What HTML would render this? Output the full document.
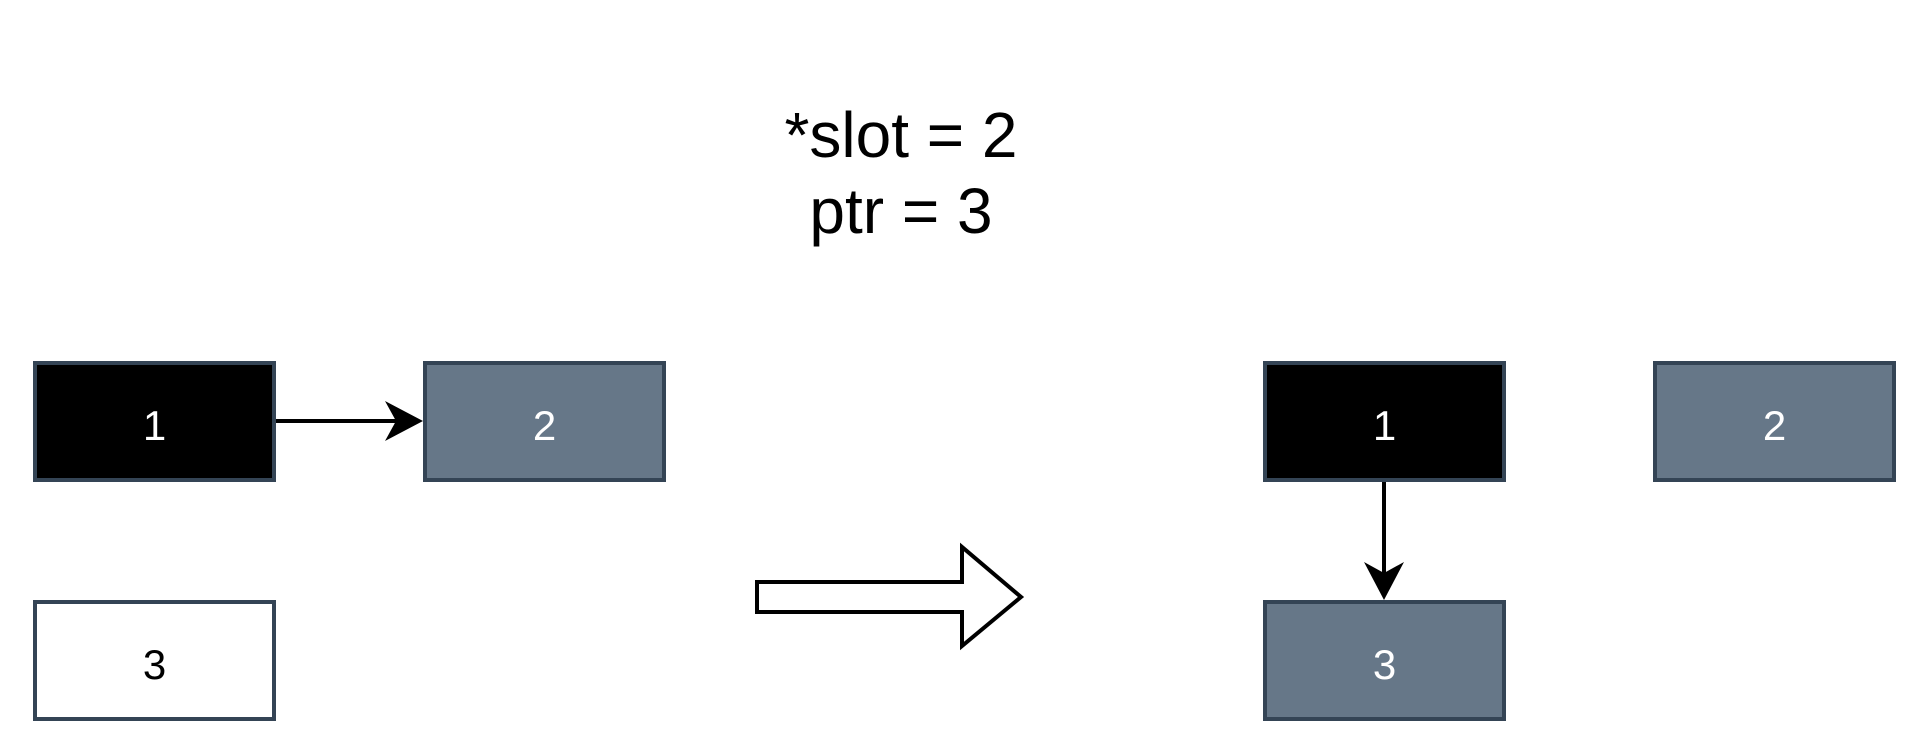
<!DOCTYPE html>
<html><head><style>
html,body{margin:0;padding:0;background:#fff;}
body{width:1926px;height:756px;position:relative;overflow:hidden;font-family:"Liberation Sans",sans-serif;}
.b{position:absolute;box-sizing:border-box;border:4px solid #344455;display:flex;align-items:center;justify-content:center;font-size:42px;padding-top:8px;}
.t{position:absolute;left:700px;width:402px;text-align:center;font-size:64px;color:#000;line-height:1;}
</style></head><body>
<div class="t" style="top:103px">*slot = 2</div>
<div class="t" style="top:179px">ptr = 3</div>
<div class="b" style="left:33px;top:361px;width:243px;height:121px;background:#000;color:#fff">1</div>
<div class="b" style="left:423px;top:361px;width:243px;height:121px;background:#667788;color:#fff">2</div>
<div class="b" style="left:33px;top:600px;width:243px;height:121px;background:#fff;color:#000">3</div>
<div class="b" style="left:1263px;top:361px;width:243px;height:121px;background:#000;color:#fff">1</div>
<div class="b" style="left:1653px;top:361px;width:243px;height:121px;background:#667788;color:#fff">2</div>
<div class="b" style="left:1263px;top:600px;width:243px;height:121px;background:#667788;color:#fff">3</div>
<svg width="1926" height="756" style="position:absolute;left:0;top:0">
<line x1="276" y1="421" x2="412" y2="421" stroke="#000" stroke-width="4"/>
<polygon points="423,421 385,401 396,421 385,441" fill="#000"/>
<line x1="1384" y1="482" x2="1384" y2="588" stroke="#000" stroke-width="4"/>
<polygon points="1384,600 1364,562 1384,573 1404,562" fill="#000"/>
<polygon points="757,582 962,582 962,547 1021,597 962,646 962,612 757,612" fill="#fff" stroke="#000" stroke-width="4"/>
</svg>
</body></html>
